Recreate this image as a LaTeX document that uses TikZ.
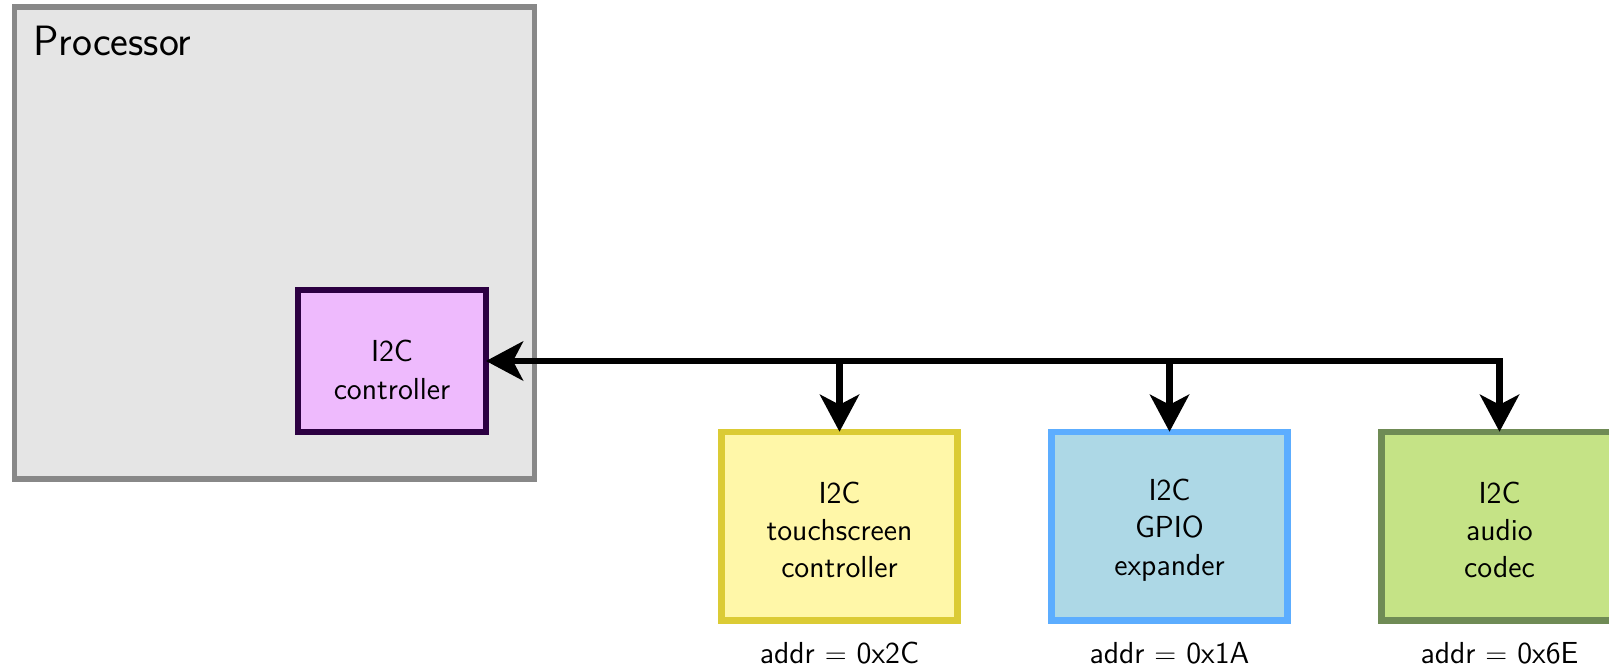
\documentclass[tikz,border=0pt]{standalone}
\usetikzlibrary{arrows.meta}
\definecolor{procfill}{HTML}{E5E5E5}
\definecolor{procdraw}{HTML}{888888}
\definecolor{ctrlfill}{HTML}{EEBAFD}
\definecolor{ctrldraw}{HTML}{2C0042}
\definecolor{yelfill}{HTML}{FFF7A8}
\definecolor{yeldraw}{HTML}{DBCB35}
\definecolor{bluefill}{HTML}{ADD8E6}
\definecolor{bluedraw}{HTML}{5CADFF}
\definecolor{grnfill}{HTML}{C5E386}
\definecolor{grndraw}{HTML}{6F8B55}
\begin{document}
\begin{tikzpicture}[x=0.5pt,y=-0.5pt,
  every node/.style={font=\sffamily\fontsize{15.2}{18.7}\selectfont, outer sep=0pt, inner sep=0pt},
  devbox/.style={draw, line width=3.25pt, minimum width=118pt, minimum height=94.25pt},
  boxtext/.style={align=center},
  bus/.style={line width=3.3pt, -{Stealth[length=18.5pt, width=19.5pt, inset=5pt]}},
  addrlabel/.style={anchor=base}]
\useasboundingbox (0,0) rectangle (1609,669);
\clip (0,0) rectangle (1609,669);
\node[draw=procdraw, fill=procfill, line width=2.85pt, minimum width=260pt, minimum height=236pt] (proc) at (274.5,243) {};
\node[anchor=base west, font=\sffamily\fontsize{21.2}{25}\selectfont] (proctitle) at (33,55) {Processor};
\node[draw=ctrldraw, fill=ctrlfill, line width=3pt, minimum width=94pt, minimum height=71pt] (ctrl) at (392,361) {};
\node[boxtext] (ctrltext) at (392,370) {I2C\\controller};
\node[devbox, draw=yeldraw, fill=yelfill] (yel) at (839.5,526) {};
\node[devbox, draw=bluedraw, fill=bluefill] (blue) at (1169.5,526) {};
\node[devbox, draw=grndraw, fill=grnfill] (grn) at (1499.5,526) {};
\node[boxtext] (yeltext) at (839.5,530) {I2C\\touchscreen\\controller};
\node[boxtext] (bluetext) at (1169.5,530) {I2C\\GPIO\\expander};
\node[boxtext] (grntext) at (1499.5,530) {I2C\\audio\\codec};
\node[addrlabel] (ayel) at (839.5,663) {addr $=$ 0x2C};
\node[addrlabel] (ablue) at (1169.5,663) {addr $=$ 0x1A};
\node[addrlabel] (agrn) at (1499.5,663) {addr $=$ 0x6E};
\coordinate (corner) at (grn.north |- ctrl.east);
\coordinate (jyel) at (yel.north |- ctrl.east);
\coordinate (jblue) at (blue.north |- ctrl.east);
\draw[bus, {Stealth[length=18.5pt, width=19.5pt, inset=5pt]}-{Stealth[length=18.5pt, width=19.5pt, inset=5pt]}] (ctrl.east) -- (corner) -- (grn.north);
\draw[bus] (jyel) -- (yel.north);
\draw[bus] (jblue) -- (blue.north);
\end{tikzpicture}
\end{document}
